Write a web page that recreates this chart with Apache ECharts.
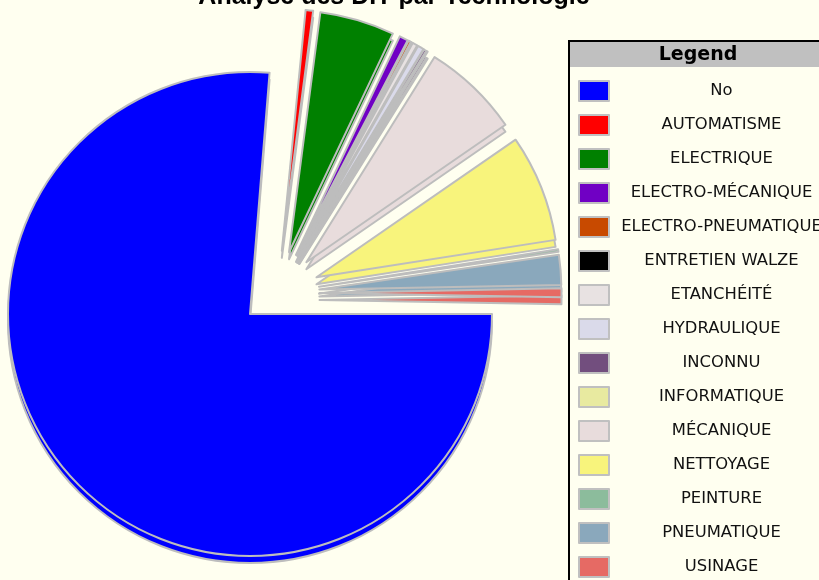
<!DOCTYPE html>
<html>
<head>
<meta charset="utf-8">
<script src="https://cdn.jsdelivr.net/npm/echarts@6/dist/echarts.min.js"></script>
<style>
html,body{margin:0;padding:0;background:#fffff0;}
#chart{width:819px;height:580px;}
</style>
</head>
<body>
<div id="chart"></div>
<script>
var categories = ['No','AUTOMATISME','ELECTRIQUE','ELECTRO-MÉCANIQUE','ELECTRO-PNEUMATIQUE','ENTRETIEN WALZE','ETANCHÉITÉ','HYDRAULIQUE','INCONNU','INFORMATIQUE','MÉCANIQUE','NETTOYAGE','PEINTURE','PNEUMATIQUE','USINAGE'];
var values = [917, 6, 60, 7, 2, 1, 4, 5, 2, 1, 78, 86, 2, 24, 7];
var colors = ['#0000ff','#ff0000','#008000','#7000c4','#c84a00','#000000','#e8e2e2','#dadaea','#724e7e','#e8eaa0','#e8dcdc','#f8f47c','#8cbc9c','#8aa8bc','#e66a64'];

var chart = echarts.init(document.getElementById('chart'), null, {renderer:'canvas'});

// showMain: true -> only the "No" slice is visible; false -> only the other slices
function makeData(showMain, explode) {
  return categories.map(function (c, i) {
    var visible = showMain ? (i === 0) : (i !== 0);
    return {
      name: c,
      value: values[i],
      selected: explode && visible,
      itemStyle: visible ? {color: colors[i]} : {color: 'rgba(0,0,0,0)', borderWidth: 0}
    };
  });
}

function pie(center, z, showMain) {
  return {
    type: 'pie',
    radius: 242,
    center: center,
    z: z,
    startAngle: showMain ? 0 : -1,
    clockwise: true,
    selectedMode: 'multiple',
    selectedOffset: 42.5,
    avoidLabelOverlap: false,
    label: {show: false},
    labelLine: {show: false},
    emphasis: {disabled: true},
    itemStyle: {borderColor: '#bdbdbd', borderWidth: 2},
    select: {itemStyle: {borderColor: '#bdbdbd', borderWidth: 2}},
    animation: false,
    legendHoverLink: false,
    data: makeData(showMain, !showMain)
  };
}

var depthGap = 7;
var mainCenter = [250, 314];
var restCenter = [277, 293];

chart.setOption({
  backgroundColor: '#fffff0',
  animation: false,
  title: {
    text: 'Analyse des DIT par Technologie',
    left: 389,
    textAlign: 'center',
    top: -20,
    textStyle: {fontFamily: 'Liberation Sans, Arial', fontWeight: 'bold', fontSize: 25, color: '#000'}
  },
  graphic: [
    {type: 'rect', shape: {x: 569, y: 42, width: 260, height: 25}, style: {fill: '#c0c0c0'}, z: 0},
    {type: 'rect', shape: {x: 569, y: 41, width: 260, height: 560}, style: {fill: 'none', stroke: '#000', lineWidth: 2}, z: 0},
    {type: 'text', x: 698, y: 55, style: {text: 'Legend', fontFamily: 'DejaVu Sans', fontWeight: 'bold', fontSize: 19, fill: '#000', align: 'center', verticalAlign: 'middle'}, z: 1}
  ],
  legend: {
    orient: 'vertical',
    left: 578,
    top: 80,
    padding: 0,
    itemWidth: 30,
    itemHeight: 20,
    itemGap: 12,
    icon: 'rect',
    selectedMode: false,
    data: categories.map(function (c, i) { return {name: c, itemStyle: {color: colors[i]}}; }),
    itemStyle: {borderColor: '#c0c0c0', borderWidth: 2},
    formatter: function (name) { return '{t|' + name + '}'; },
    textStyle: {
      rich: {t: {width: 215, align: 'center', fontFamily: 'DejaVu Sans', fontSize: 16.4, lineHeight: 20, color: '#111'}}
    }
  },
  series: [
    pie([mainCenter[0], mainCenter[1] + depthGap], 1, true),
    pie([restCenter[0], restCenter[1] + depthGap], 1, false),
    pie(mainCenter, 2, true),
    pie(restCenter, 2, false)
  ]
});
</script>
</body>
</html>
